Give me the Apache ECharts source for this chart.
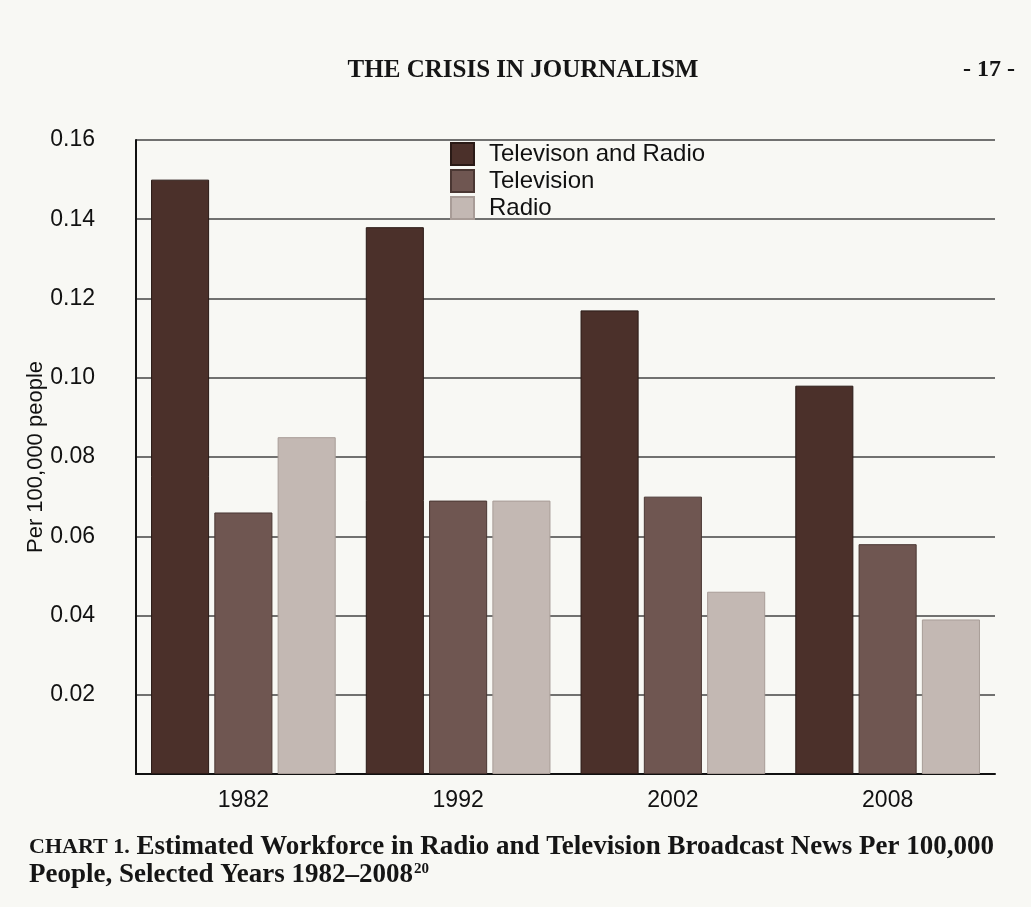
<!DOCTYPE html>
<html><head><meta charset="utf-8">
<script src="https://cdn.jsdelivr.net/npm/echarts@6/dist/echarts.min.js"></script>
<style>html,body{margin:0;padding:0;background:#f8f8f4;}#c{width:1031px;height:907px;}</style>
</head><body><div id="c"></div>
<script>
const years = ['1982', '1992', '2002', '2008'];
const tvAndRadio = [0.150, 0.138, 0.117, 0.098];
const television = [0.066, 0.069, 0.070, 0.058];
const radio = [0.085, 0.069, 0.046, 0.039];
const seriesNames = ['Televison and Radio', 'Television', 'Radio'];

const chart = echarts.init(document.getElementById('c'));
const serif = '"Liberation Serif", "DejaVu Serif", serif';
const sans = '"Liberation Sans", Arial, sans-serif';
chart.setOption({
  backgroundColor: '#f8f8f4',
  animation: false,
  title: [
    {text: 'THE CRISIS IN JOURNALISM', left: 518, top: 53, textAlign: 'center',
     textStyle: {fontFamily: serif, fontSize: 25, fontWeight: 'bold', color: '#151515'}},
    {text: '- 17 -', left: 1010, top: 53, textAlign: 'right',
     textStyle: {fontFamily: serif, fontSize: 24, fontWeight: 'bold', color: '#151515'}}
  ],
  graphic: [
    {type: 'text', left: 29, top: 834, style: {
      text: '{b|CHART 1.}{n| Estimated Workforce in Radio and Television Broadcast News Per 100,000}',
      rich: {b: {fontFamily: serif, fontSize: 22, fontWeight: 'bold', fill: '#151515'},
             n: {fontFamily: serif, fontSize: 27, fontWeight: 'bold', fill: '#151515'}}
    }},
    {type: 'text', left: 29, top: 862, style: {
      text: '{n|People, Selected Years 1982\u20132008}{s|20}',
      rich: {n: {fontFamily: serif, fontSize: 27, fontWeight: 'bold', fill: '#151515'},
             s: {fontFamily: serif, fontSize: 15, fontWeight: 'bold', fill: '#151515', verticalAlign: 'top', padding: [0,0,12,1]}}
    }}
  ],
  legend: {
    orient: 'vertical', left: 445, top: 137, itemWidth: 23, itemHeight: 22, itemGap: 3,
    icon: 'rect',
    textStyle: {fontFamily: sans, fontSize: 24, color: '#111', padding: [0,0,0,10]},
    data: seriesNames
  },
  grid: {left: 136, right: 36, top: 140, bottom: 133, containLabel: false},
  xAxis: {
    type: 'category', data: years,
    axisLine: {lineStyle: {color: '#111', width: 2}},
    axisTick: {show: false},
    axisLabel: {fontFamily: sans, fontSize: 23, color: '#111', margin: 15}
  },
  yAxis: {
    type: 'value', min: 0, max: 0.16, interval: 0.02,
    name: 'Per 100,000 people', nameLocation: 'middle', nameGap: 89, nameRotate: 90,
    nameMoveOverlap: false,
    nameTextStyle: {fontFamily: sans, fontSize: 22, color: '#111'},
    axisLine: {show: true, lineStyle: {color: '#111', width: 2}},
    axisTick: {show: false},
    axisLabel: {fontFamily: sans, fontSize: 23, color: '#111', margin: 41,
      formatter: v => v === 0 ? '' : v.toFixed(2)},
    splitLine: {lineStyle: {color: '#444', width: 1.5}}
  },
  series: [
    {name: seriesNames[0], type: 'bar', data: tvAndRadio, barGap: '9%', barCategoryGap: '14%',
     itemStyle: {color: '#4b302a', borderColor: '#2a1a16', borderWidth: 1}},
    {name: seriesNames[1], type: 'bar', data: television,
     itemStyle: {color: '#6f5651', borderColor: '#4a3733', borderWidth: 1}},
    {name: seriesNames[2], type: 'bar', data: radio,
     itemStyle: {color: '#c3b8b3', borderColor: '#a89c97', borderWidth: 1}}
  ]
});
</script></body></html>
